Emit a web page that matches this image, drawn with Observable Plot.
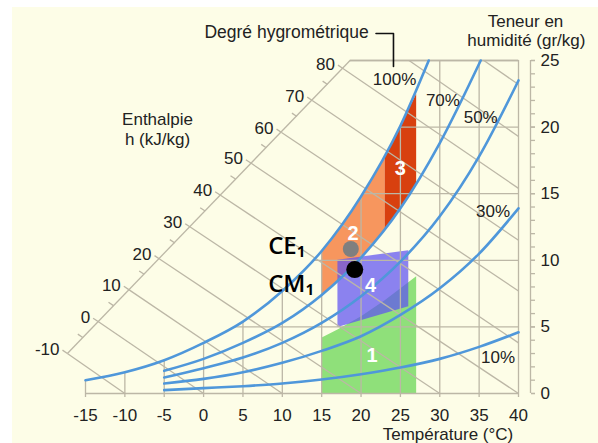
<!DOCTYPE html>
<html><head><meta charset="utf-8">
<script src="https://cdn.jsdelivr.net/npm/d3@7"></script>
<script src="https://cdn.jsdelivr.net/npm/@observablehq/plot@0.6"></script>
<style>
html,body{margin:0;padding:0;background:#fff;}
#chart svg{display:block;}
</style></head><body><div id="chart"></div>
<script>
// ---------------- data ----------------
const tempTicks = [-15,-10,-5,0,5,10,15,20,25,30,35,40];
const gridTopW  = [1.0,1.6,2.5,3.8,5.4,7.7,10.7,14.8,20.1,25,25,25];
const humTicks  = [0,5,10,15,20,25];
const humGridStartT = [-15,3.9,14.1,20.3,25.0,18.6];
const humMinorTicks = [0,1,2,3,4,5,6,7,8,9,10,11,12,13,14,15,16,17,18,19,20,21,22,23,24,25];

// relative humidity curves (T °C, W g/kg)
const rhNames = ["100%","70%","50%","30%","10%"];
const rh100 = [[-15,1.0],[-10,1.6],[-5,2.5],[0,3.8],[5,5.4],[10,7.7],[15,10.7],[20,14.8],[25,20.1],[28.6,25]];
const rh70  = [[-5,1.7],[0,2.6],[5,3.8],[10,5.3],[15,7.4],[20,10.2],[25,13.9],[30,18.8],[35.2,25]];
const rh50  = [[-5,1.2],[0,1.9],[5,2.7],[10,3.8],[15,5.3],[20,7.3],[25,9.9],[30,13.3],[35,17.8],[40,23.5]];
const rh30  = [[-5,0.75],[0,1.1],[5,1.6],[10,2.3],[15,3.2],[20,4.3],[25,5.9],[30,7.9],[35,10.5],[40,13.9]];
const rh10  = [[-5,0.25],[0,0.4],[5,0.55],[10,0.75],[15,1.05],[20,1.45],[25,1.95],[30,2.6],[35,3.5],[40,4.6]];

// enthalpy lines (kJ/kg)
const enthH      = [-10,0,10,20,30,40,50,60,70,80,90,100];
const enthStartT = [-17.3,-13.4,-9.5,-5.6,-1.7,2.1,6.0,9.9,13.8,17.7,26.1,35.6];
const enthStartW = [3.0,5.4,7.8,10.1,12.5,14.9,17.3,19.6,22.0,24.4,25,25];
const enthEndT   = [-10,0,10,20,30,40,40,40,40,40,40,40];
const enthEndW   = [0,0,0,0,0,0,3.8,7.7,11.5,15.4,19.3,23.2];
const enthLabels = [-10,0,10,20,30,40,50,60,70,80];
const enthAxisT  = [-17.3,18.6];
const enthAxisW  = [3.0,25];

// comfort zones
const zone1 = [[15,0],[27,0],[27,8.8],[25,7.9],[23,7.0],[20,5.8],[17,4.8],[15,4.2]];
const zone2 = [[15,10.7],[17,12.1],[20,14.8],[23,17.8],[23,12.3],[20,10.2],[17,8.4],[15,7.4]];
const zone3 = [[23,17.8],[25,20.1],[27,22.5],[27,15.8],[25,13.9],[23,12.3]];
const zone4 = [[17,10.05],[26,10.75],[26,6.55],[17,5.0]];
const zoneNames = ["1","2","3","4"];

// states
const stateNames = ["CE₁","CM₁"];
const stateT = [18.7,19.2];
const stateW = [10.85,9.3];

// ---------------- layout ----------------
const W = 598, H = 443;
const xS = d3.scaleLinear([-15,40],[85,518]);
const yS = d3.scaleLinear([0,25],[393,60]);
const gridColor = "#bcb7a6";
const curveColor = "#4f97da";
const textColor = "#222";
const font = "Liberation Sans, Arial, sans-serif";

const vGrid = tempTicks.map((t,i)=>({t, top: gridTopW[i], bottom: 0}));
const hGrid = humTicks.map((w,i)=>({w, start: humGridStartT[i], end: 40}));
const enth = enthH.map((h,i)=>({h, x1:enthStartT[i], y1:enthStartW[i], x2:enthEndT[i], y2:enthEndW[i]}));
const frameSegs = [
  {x1:enthAxisT[0], y1:enthAxisW[0], x2:enthAxisT[1], y2:enthAxisW[1]},
  {x1:enthAxisT[1], y1:enthAxisW[1], x2:40, y2:25}
];

function dirOf(d){
  const dx = xS(d.x2)-xS(d.x1), dy = yS(d.y2)-yS(d.y1), l = Math.hypot(dx,dy);
  return [dx/l, dy/l];
}
function tickFrom(t,w,dir,len){
  const px = xS(t)-dir[0]*len, py = yS(w)-dir[1]*len;
  return {x1:t, y1:w, x2:xS.invert(px), y2:yS.invert(py)};
}
const majorTicks = enthLabels.map((h,i)=>({...tickFrom(enth[i].x1, enth[i].y1, dirOf(enth[i]), 6), h}));
const minorTicks = enthLabels.slice(0,-1).map((h,i)=>{
  const a = enth[i], b = enth[i+1];
  const da = dirOf(a), db = dirOf(b);
  const d = [(da[0]+db[0])/2,(da[1]+db[1])/2];
  return tickFrom((a.x1+b.x1)/2,(a.y1+b.y1)/2,d,6);
});

const rhData = [rh100,rh70,rh50,rh30,rh10].flatMap((c,k)=>c.map(([t,w])=>({t,w,rh:rhNames[k]})));
const zones = [zone1,zone2,zone3,zone4];
const zoneFill = ["#8fe07a","#f7965e","#d8400f","#5e52f2"];
const zoneOpacity = [1,1,1,0.72];

const rhLabelT = [24.25,30.4,35.2,36.76,37.4];
const rhLabelW = [23.57,22.0,20.7,13.66,2.7];
const zoneLabelT = [21.4,19.0,25.0,21.2];
const zoneLabelW = [2.85,12.0,16.9,8.1];
const rightAxis = [{t: xS.invert(530), y1: 0, y2: 25}];

const annotations = [
  {text:"Degré hygrométrique", t:0.1, w:27.14, anchor:"start"},
  {text:"Teneur en", t:40.89, w:27.9, anchor:"middle"},
  {text:"humidité (gr/kg)", t:41.0, w:26.5, anchor:"middle"},
  {text:"Enthalpie", t:-5.85, w:20.58, anchor:"middle"},
  {text:"h (kJ/kg)", t:-5.85, w:19.08, anchor:"middle"},
  {text:"Température (°C)", t:31.04, w:-3.08, anchor:"middle"}
];
const leader = [[21.9,27.03],[24.12,27.03],[24.12,24.55]];
const fmt = d => String(d);

const marks = [];
zones.forEach((z,k)=>{
  const pts = z.concat([z[0]]);
  marks.push(Plot.line(pts,{x:d=>d[0],y:d=>d[1],fill:zoneFill[k],fillOpacity:zoneOpacity[k],stroke:"none"}));
});
marks.push(
  Plot.ruleX(vGrid,{x:"t",y1:"bottom",y2:"top",stroke:gridColor,strokeWidth:1.3}),
  Plot.ruleY(hGrid,{y:"w",x1:"start",x2:"end",stroke:gridColor,strokeWidth:1.3}),
  Plot.link(enth,{x1:"x1",y1:"y1",x2:"x2",y2:"y2",stroke:gridColor,strokeWidth:1.3}),
  Plot.link(frameSegs,{x1:"x1",y1:"y1",x2:"x2",y2:"y2",stroke:gridColor,strokeWidth:1.3}),
  Plot.link(majorTicks,{x1:"x1",y1:"y1",x2:"x2",y2:"y2",stroke:gridColor,strokeWidth:1.3}),
  Plot.link(minorTicks,{x1:"x1",y1:"y1",x2:"x2",y2:"y2",stroke:gridColor,strokeWidth:1.3}),
  Plot.text(majorTicks,{x:"x2",y:"y2",text:d=>fmt(d.h),textAnchor:"end",dx:-3,dy:-1,fontSize:17,fill:textColor}),
  Plot.line(rhData,{x:"t",y:"w",z:"rh",stroke:curveColor,strokeWidth:2.6,curve:"monotone-x"}),
  Plot.text(zoneNames,{x:(d,i)=>zoneLabelT[i],y:(d,i)=>zoneLabelW[i],text:d=>d,fill:"#fff",fontSize:20,fontWeight:"bold"}),
  Plot.dot([stateNames[0]],{x:()=>stateT[0],y:()=>stateW[0],r:8,fill:"#7f7f7f",stroke:"none"}),
  Plot.dot([stateNames[1]],{x:()=>stateT[1],y:()=>stateW[1],r:8.5,fill:"#000",stroke:"none"}),
  Plot.text(stateNames,{x:()=>8.2,y:(d,i)=>[11.06,8.2][i],text:d=>d,textAnchor:"start",fontSize:24,fontWeight:600,fontFamily:"Open Sans",fill:"#000"}),
  Plot.text(rhNames,{x:(d,i)=>rhLabelT[i],y:(d,i)=>rhLabelW[i],text:d=>d,fontSize:17,fill:textColor}),
  Plot.text(annotations,{x:"t",y:"w",text:"text",textAnchor:"start",fontSize:17.5,fill:textColor,filter:d=>d.anchor==="start"}),
  Plot.text(annotations,{x:"t",y:"w",text:"text",textAnchor:"middle",fontSize:17,fill:textColor,filter:d=>d.anchor==="middle"}),
  Plot.line(leader,{x:d=>d[0],y:d=>d[1],stroke:"#111",strokeWidth:1.6}),
  Plot.ruleX(rightAxis,{x:"t",y1:"y1",y2:"y2",stroke:gridColor,strokeWidth:1.3}),
  Plot.axisX(tempTicks,{anchor:"bottom",tickSize:4,tickPadding:11,tickFormat:fmt,stroke:gridColor,strokeWidth:1.3,fill:textColor,fontSize:17,label:null}),
  Plot.axisY(humMinorTicks,{anchor:"right",tickSize:4,tickPadding:6,stroke:gridColor,strokeWidth:1.3,tickFormat:()=>"",label:null}),
  Plot.axisY(humTicks,{anchor:"right",tickSize:4,tickPadding:6,tickFormat:fmt,stroke:gridColor,strokeWidth:1.3,fill:textColor,fontSize:17,label:null})
);

const chart = Plot.plot({
  width: W, height: H,
  marginLeft: 85, marginRight: 68, marginTop: 60, marginBottom: 50,
  x: {domain:[-15,40], range:[85,518]},
  y: {domain:[0,25], range:[393,60]},
  style: {fontFamily: font, fontSize: "16px", color: textColor, overflow: "visible",
    background: "linear-gradient(#fdfde7,#fdfde7) 12px 7px / 100% 100% no-repeat, #fff"},
  marks
});
document.getElementById("chart").appendChild(chart);
</script></body></html>
